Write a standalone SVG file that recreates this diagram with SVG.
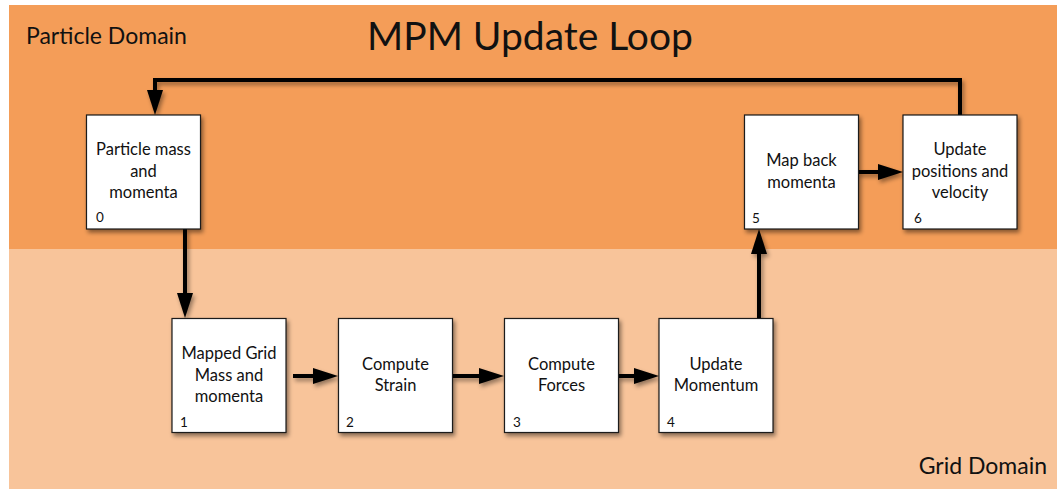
<svg xmlns="http://www.w3.org/2000/svg" width="1057" height="489" viewBox="0 0 1057 489">
  <style>
    .box { fill: #ffffff; stroke: #1a1a1a; stroke-width: 1.2; filter: url(#shadow); }
    .lbl { font-family: Lato, "Open Sans", "Liberation Sans", sans-serif; font-size: 16.5px; fill: #111; text-anchor: middle; }
    .num { font-family: Lato, "Open Sans", "Liberation Sans", sans-serif; font-size: 13.5px; fill: #111; }
    .dom { font-family: Lato, "Open Sans", "Liberation Sans", sans-serif; font-size: 23px; fill: #111; }
    .title { font-family: Lato, "Open Sans", "Liberation Sans", sans-serif; font-size: 39px; fill: #111; text-anchor: middle; }
    .conn { fill: none; stroke: #000; stroke-width: 4; filter: url(#lshadow); }
  </style>
  <defs>
    <filter id="shadow" x="-20%" y="-20%" width="150%" height="150%">
      <feDropShadow dx="2" dy="3" stdDeviation="2" flood-color="#000" flood-opacity="0.45"/>
    </filter>
    <filter id="lshadow" filterUnits="userSpaceOnUse" x="0" y="0" width="1057" height="489">
      <feDropShadow dx="2" dy="3" stdDeviation="2" flood-color="#000" flood-opacity="0.4"/>
    </filter>
    <marker id="arrow" markerUnits="userSpaceOnUse" markerWidth="26" markerHeight="16" refX="0" refY="8" orient="auto" overflow="visible">
      <path d="M0,0 L25,8 L0,16 z" fill="#000"/>
    </marker>
  </defs>

  <rect x="0" y="0" width="1057" height="489" fill="#ffffff"/>
  <rect id="particle-domain" x="9" y="5" width="1048" height="244" fill="#F49D58"/>
  <rect id="grid-domain" x="9" y="249" width="1048" height="240" fill="#F8C49A"/>

  <text class="title" x="530" y="50">MPM Update Loop</text>
  <text class="dom" x="26" y="44">Particle Domain</text>
  <text class="dom" x="1047" y="474" text-anchor="end">Grid Domain</text>

  <g id="connectors">
    <path class="conn" d="M960,115 L960,80 L155,80 L155,90" marker-end="url(#arrow)"/>
    <path class="conn" d="M185,229 L185,293" marker-end="url(#arrow)"/>
    <path class="conn" d="M293,376 L313,376" marker-end="url(#arrow)"/>
    <path class="conn" d="M452,376 L479,376" marker-end="url(#arrow)"/>
    <path class="conn" d="M618,376 L634,376" marker-end="url(#arrow)"/>
    <path class="conn" d="M759,318 L759,254" marker-end="url(#arrow)"/>
    <path class="conn" d="M858,172 L878,172" marker-end="url(#arrow)"/>
  </g>

  <g id="node0">
    <rect class="box" x="86.5" y="115" width="114" height="114"/>
    <text class="lbl" x="143.5" y="155">Particle mass</text>
    <text class="lbl" x="143.5" y="177">and</text>
    <text class="lbl" x="143.5" y="198">momenta</text>
    <text class="num" x="96" y="222">0</text>
  </g>
  <g id="node1">
    <rect class="box" x="172" y="318.5" width="114" height="114"/>
    <text class="lbl" x="229" y="359">Mapped Grid</text>
    <text class="lbl" x="229" y="381">Mass and</text>
    <text class="lbl" x="229" y="402">momenta</text>
    <text class="num" x="180" y="427">1</text>
  </g>
  <g id="node2">
    <rect class="box" x="338.5" y="318.5" width="114" height="114"/>
    <text class="lbl" x="395.5" y="370">Compute</text>
    <text class="lbl" x="395.5" y="391">Strain</text>
    <text class="num" x="346" y="427">2</text>
  </g>
  <g id="node3">
    <rect class="box" x="504.5" y="318.5" width="114" height="114"/>
    <text class="lbl" x="561.5" y="370">Compute</text>
    <text class="lbl" x="561.5" y="391">Forces</text>
    <text class="num" x="513" y="427">3</text>
  </g>
  <g id="node4">
    <rect class="box" x="659" y="318.5" width="114" height="114"/>
    <text class="lbl" x="716" y="370">Update</text>
    <text class="lbl" x="716" y="391">Momentum</text>
    <text class="num" x="667" y="427">4</text>
  </g>
  <g id="node5">
    <rect class="box" x="744.5" y="115" width="114" height="114"/>
    <text class="lbl" x="801.5" y="166">Map back</text>
    <text class="lbl" x="801.5" y="188">momenta</text>
    <text class="num" x="752" y="223">5</text>
  </g>
  <g id="node6">
    <rect class="box" x="903" y="115" width="114" height="114"/>
    <text class="lbl" x="960" y="155">Update</text>
    <text class="lbl" x="960" y="177">positions and</text>
    <text class="lbl" x="960" y="198">velocity</text>
    <text class="num" x="914" y="223">6</text>
  </g>
</svg>
